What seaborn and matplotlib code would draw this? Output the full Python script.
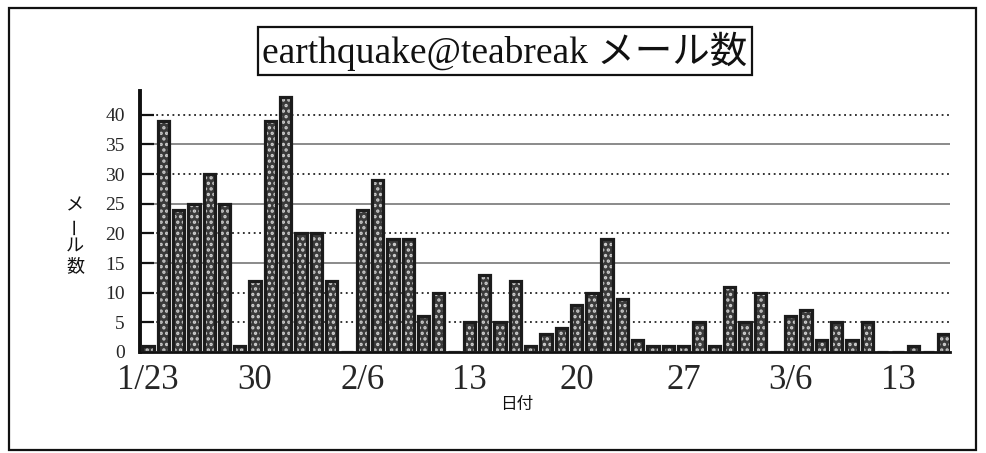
import matplotlib
matplotlib.use("Agg")
import matplotlib.pyplot as plt
from matplotlib.patches import Rectangle
import seaborn as sns
import pandas as pd
import numpy as np

# ---- data ----
day_index = list(range(53))  # 1/23 .. 3/16
mail_counts = [1, 39, 24, 25, 30, 25, 1,
               12, 39, 43, 20, 20, 12, 0,
               24, 29, 19, 19, 6, 10, 0,
               5, 13, 5, 12, 1, 3, 4,
               8, 10, 19, 9, 2, 1, 1,
               1, 5, 1, 11, 5, 10, 0,
               6, 7, 2, 5, 2, 5, 0,
               0, 1, 0, 3]
tick_positions = [0, 7, 14, 21, 28, 35, 42, 49]
tick_labels = ["1/23", "30", "2/6", "13", "20", "27", "3/6", "13"]
y_ticks = [0, 5, 10, 15, 20, 25, 30, 35, 40]
title_text = "earthquake@teabreak メール数"
ylabel_chars = ["メ", "ー", "ル", "数"]
xlabel_text = "日付"

df = pd.DataFrame({"day": day_index, "count": mail_counts})

sns.set_theme(style="white")
FAM = ["Liberation Serif", "Noto Sans CJK JP", "DejaVu Sans"]
plt.rcParams["font.family"] = FAM
plt.rcParams["hatch.linewidth"] = 1.6

fig = plt.figure(figsize=(9.86, 4.53), dpi=100)
ax = fig.add_axes([0.142, 0.223, 0.8215, 0.576])

# gridlines
for v in [5, 10, 20, 30, 40]:
    ax.axhline(v, color="#222222", lw=1.3, ls=(0, (1, 2)), zorder=0)
for v in [15, 25, 35]:
    ax.axhline(v, color="#8a8a8a", lw=1.4, ls="-", zorder=0)

# filled bars with dotted pattern
sns.barplot(data=df, x="day", y="count", native_scale=True, width=0.74,
            color="#3a3a3a", saturation=1, edgecolor="#d0d0d0",
            linewidth=0, hatch="...", ax=ax, zorder=2)
# dark outlines
sns.barplot(data=df, x="day", y="count", native_scale=True, width=0.74,
            fill=False, edgecolor="#1c1c1c", linewidth=2.3, ax=ax, zorder=3)

ax.set_xlim(-0.52, 52.4)
ax.set_ylim(0, 44)
ax.set_yticks(y_ticks)
ax.set_yticklabels([str(t) for t in y_ticks], fontsize=14, family=FAM)
ax.set_xticks(tick_positions)
ax.set_xticklabels(tick_labels, fontsize=25, family=FAM)
ax.tick_params(axis="y", direction="in", length=10, width=1.6, color="#111111", pad=11, left=True)
ax.tick_params(axis="x", length=0, pad=9)
ax.set_xlabel("")
ax.set_ylabel("")
for s in ["top", "right"]:
    ax.spines[s].set_visible(False)
ax.spines["left"].set_linewidth(2.8)
ax.spines["left"].set_color("#111111")
ax.spines["bottom"].set_linewidth(2.0)
ax.spines["bottom"].set_color("#111111")
ax.set_facecolor("white")

# title in a box
fig.text(505 / 986, 1 - 51 / 453, title_text, ha="center", va="center",
         fontsize=27, family=FAM, color="#111111",
         bbox=dict(boxstyle="square,pad=0.12", fc="white", ec="#111111", lw=1.6))

# vertical y label
ys = [205, 226, 246, 266]
for ch, yy in zip(ylabel_chars, ys):
    rot = 90 if ch == "ー" else 0
    fig.text(75 / 986, 1 - yy / 453, ch, ha="center", va="center",
             fontsize=13, family=["Noto Sans CJK JP"], rotation=rot, color="#111111")

fig.text(517 / 986, 1 - 405 / 453, xlabel_text, ha="center", va="center",
         fontsize=12, family=["Noto Sans CJK JP"], color="#111111")

# outer frame
fig.patches.append(Rectangle((9 / 986, 3 / 453), (976 - 9) / 986, (445 - 3) / 453,
                             transform=fig.transFigure, fill=False,
                             ec="#111111", lw=1.6))

fig.savefig("out.png", dpi=100, facecolor="white")
